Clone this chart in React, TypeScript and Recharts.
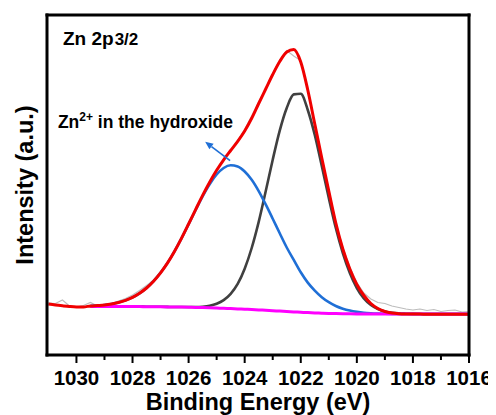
import { Line, LineChart, ReferenceDot, ReferenceLine, XAxis, YAxis } from 'recharts';

// Zn 2p3/2 XPS fit (intensity in arbitrary units)
const ENERGY_EV = [
  1031, 1030.75, 1030.5, 1030.25, 1030, 1029.75, 1029.5, 1029.25, 1029, 1028.75,
  1028.5, 1028.25, 1028, 1027.75, 1027.5, 1027.25, 1027, 1026.75, 1026.5, 1026.25,
  1026, 1025.75, 1025.5, 1025.25, 1025, 1024.75, 1024.5, 1024.25, 1024, 1023.75,
  1023.5, 1023.25, 1023, 1022.75, 1022.5, 1022.25, 1022, 1021.75, 1021.5, 1021.25,
  1021, 1020.75, 1020.5, 1020.25, 1020, 1019.75, 1019.5, 1019.25, 1019, 1018.75,
  1018.5, 1018.25, 1018, 1017.75, 1017.5, 1017.25, 1017, 1016.75, 1016.5, 1016.25,
  1016,
];

const RAW = [
  52.0, 51.5, 55.0, 49.0, 48.0, 49.5, 52.5, 49.0, 50.5, 51.5,
  54.0, 56.5, 60.0, 64.5, 69.5, 75.0, 83.5, 93.0, 104.5, 117.5,
  131.5, 146.0, 159.0, 173.5, 185.0, 196.0, 204.0, 214.5, 225.5, 239.0,
  253.0, 266.5, 281.5, 295.0, 304.5, 299.0, 294.5, 264.5, 232.0, 196.5,
  165.0, 133.0, 107.5, 88.0, 72.5, 62.0, 56.0, 52.5, 51.5, 49.0,
  47.5, 46.0, 45.0, 46.0, 44.5, 45.5, 43.5, 44.5, 45.0, 43.0,
  43.5,
];

const ENVELOPE = [
  51.0, 50.0, 49.2, 48.5, 48.1, 48.1, 49.1, 49.5, 50.0, 51.0,
  52.5, 54.6, 57.6, 61.7, 67.0, 73.8, 82.2, 92.1, 103.8, 116.9,
  131.0, 145.4, 159.6, 172.8, 184.7, 195.2, 204.5, 213.6, 224.0, 236.7,
  251.5, 266.0, 280.5, 293.5, 303.0, 305.5, 293.0, 265.0, 231.0, 197.0,
  164.0, 132.0, 106.0, 86.0, 70.5, 59.5, 51.5, 46.5, 43.5, 42.0,
  41.3, 41.0, 40.9, 40.9, 40.8, 40.8, 40.8, 40.8, 40.8, 40.8,
  40.8,
];

const PEAK_MAIN = [
  null, null, null, null, null, null, 48.6, 48.6, 48.5, 48.5,
  48.5, 48.4, 48.4, 48.4, 48.3, 48.3, 48.2, 48.1, 48.0, 48.0,
  48.0, 48.0, 48.3, 49.2, 51.2, 54.9, 61.2, 71.1, 86.3, 107.0,
  133.1, 163.7, 195.3, 224.4, 247.0, 260.6, 261.2, 245.0, 220.0, 189.0,
  157.0, 127.0, 102.0, 82.0, 67.0, 56.5, 50.0, 46.0, 43.6, 42.3,
  41.6, 41.3, 41.1, 41.0, 41.0, 41.0, 41.0, 41.0, 41.0, 41.0,
  41.0,
];

const PEAK_HYDROXIDE = [
  null, null, null, null, null, null, 49.1, 49.5, 50.0, 51.0,
  52.5, 54.6, 57.6, 61.7, 67.0, 73.8, 82.2, 92.1, 103.8, 116.8,
  130.8, 145.0, 158.7, 170.8, 180.5, 187.0, 189.7, 188.6, 183.5, 175.2,
  163.9, 150.6, 136.3, 121.7, 107.5, 95.1, 82.7, 72.4, 64.4, 57.8,
  52.8, 49.0, 46.3, 44.4, 43.1, 42.2, 41.7, 41.4, 41.2, 41.1,
  41.0, 41.0, 41.0, 41.0, 41.0, 41.0, 41.0, 41.0, 41.0, 41.0,
  41.0,
];

const BACKGROUND = [
  null, null, null, null, null, null, 48.6, 48.6, 48.5, 48.5,
  48.5, 48.4, 48.4, 48.4, 48.3, 48.3, 48.2, 48.1, 48.0, 47.9,
  47.8, 47.6, 47.4, 47.2, 47.0, 46.7, 46.4, 46.1, 45.8, 45.5,
  45.1, 44.7, 44.3, 43.9, 43.5, 43.1, 42.7, 42.4, 42.1, 41.8,
  41.6, 41.4, 41.3, 41.2, 41.1, 41.0, 41.0, 41.0, 41.0, 41.0,
  41.0, 41.0, 41.0, 41.0, 41.0, 41.0, 41.0, 41.0, 41.0, 41.0,
  41.0,
];

const MAJOR_TICKS = [1030, 1028, 1026, 1024, 1022, 1020, 1018, 1016];
const MINOR_TICKS = [1029, 1027, 1025, 1023, 1021, 1019, 1017];

const X_DOMAIN: [number, number] = [1016, 1031.05];
const Y_DOMAIN: [number, number] = [0, 340];

// arrow pointing from the hydroxide peak to its label
const ARROW_TAIL = { x: 1024.52, y: 194.3 };
const ARROW_HEAD = { x: 1025.41, y: 213.3 };

const FONT = '"Liberation Sans", Arial, sans-serif';
const BLUE = '#1f6fd6';
const BORDER = { stroke: '#000', strokeWidth: 3, strokeLinecap: 'square' as const };

const rows = ENERGY_EV.map((e, i) => ({
  e,
  raw: RAW[i],
  fit: ENVELOPE[i],
  main: PEAK_MAIN[i],
  oh: PEAK_HYDROXIDE[i],
  bg: BACKGROUND[i],
}));

function EnergyTick(props: any) {
  const { x, y, payload } = props;
  const major = MAJOR_TICKS.includes(payload.value);
  return (
    <g>
      <line x1={x} x2={x} y1={y} y2={y + (major ? 8 : 5)} stroke="#000" strokeWidth={2} />
      {major && (
        <text
          x={x}
          y={y + 30}
          textAnchor="middle"
          fontFamily={FONT}
          fontWeight="bold"
          fontSize={20.5}
          fill="#000"
        >
          {payload.value}
        </text>
      )}
    </g>
  );
}

function XTitle(props: any) {
  const { x, y, width } = props.viewBox;
  return (
    <text
      x={x + width / 2}
      y={y + 55}
      textAnchor="middle"
      fontFamily={FONT}
      fontWeight="bold"
      fontSize={23.5}
      fill="#000"
    >
      Binding Energy (eV)
    </text>
  );
}

function YTitle(props: any) {
  const { x, y, width, height } = props.viewBox;
  const cx = x + width - 14;
  const cy = y + height / 2;
  return (
    <text
      x={cx}
      y={cy}
      transform={`rotate(-90 ${cx} ${cy})`}
      textAnchor="middle"
      fontFamily={FONT}
      fontWeight="bold"
      fontSize={23.5}
      fill="#000"
    >
      Intensity (a.u.)
    </text>
  );
}

function PanelTitle(props: any) {
  const { x, y } = props.viewBox;
  return (
    <text x={x} y={y} fontFamily={FONT} fontWeight="bold" fill="#000">
      <tspan fontSize={19}>Zn 2p</tspan>
      <tspan fontSize={17} dx={1}>3/2</tspan>
    </text>
  );
}

function HydroxideLabel(props: any) {
  const { x, y } = props.viewBox;
  return (
    <text x={x} y={y} fontFamily={FONT} fontWeight="bold" fill="#000" fontSize={17.5}>
      <tspan>Zn</tspan>
      <tspan fontSize={12} dy={-7}>2+</tspan>
      <tspan dy={7}> in the hydroxide</tspan>
    </text>
  );
}

function ArrowShape(props: any) {
  const { x1, y1, x2, y2 } = props;
  const ang = Math.atan2(y2 - y1, x2 - x1);
  const len = 8;
  const half = 3.5;
  const bx = x2 - len * Math.cos(ang);
  const by = y2 - len * Math.sin(ang);
  const pts = [
    `${x2},${y2}`,
    `${bx - half * Math.sin(ang)},${by + half * Math.cos(ang)}`,
    `${bx + half * Math.sin(ang)},${by - half * Math.cos(ang)}`,
  ].join(' ');
  return (
    <g>
      <line x1={x1} y1={y1} x2={bx} y2={by} stroke={BLUE} strokeWidth={1.6} />
      <polygon points={pts} fill={BLUE} />
    </g>
  );
}

export default function App() {
  return (
    <LineChart
      width={488}
      height={407}
      data={rows}
      margin={{ top: 6, right: 26, bottom: 0, left: 38 }}
    >
      <XAxis
        dataKey="e"
        type="number"
        domain={X_DOMAIN}
        reversed
        allowDataOverflow
        ticks={[...MAJOR_TICKS, ...MINOR_TICKS]}
        interval={0}
        height={60}
        tickLine={false}
        tickSize={0}
        tickMargin={0}
        tick={<EnergyTick />}
        axisLine={BORDER}
        label={<XTitle />}
      />
      <XAxis
        xAxisId="top"
        orientation="top"
        dataKey="e"
        type="number"
        domain={X_DOMAIN}
        reversed
        allowDataOverflow
        height={1}
        tick={false}
        tickLine={false}
        axisLine={BORDER}
      />
      <YAxis
        type="number"
        domain={Y_DOMAIN}
        allowDataOverflow
        width={1}
        tick={false}
        tickLine={false}
        axisLine={BORDER}
        label={<YTitle />}
      />
      <YAxis
        yAxisId="right"
        orientation="right"
        type="number"
        domain={Y_DOMAIN}
        width={1}
        tick={false}
        tickLine={false}
        axisLine={BORDER}
      />
      <Line dataKey="raw" type="linear" stroke="#bdbdbd" strokeWidth={1.2} dot={false} isAnimationActive={false} />
      <Line dataKey="main" type="monotone" stroke="#404040" strokeWidth={2.6} dot={false} isAnimationActive={false} />
      <Line dataKey="oh" type="monotone" stroke={BLUE} strokeWidth={2.6} dot={false} isAnimationActive={false} />
      <Line dataKey="bg" type="monotone" stroke="#ff00ff" strokeWidth={3} dot={false} isAnimationActive={false} />
      <Line dataKey="fit" type="monotone" stroke="#f00000" strokeWidth={3} dot={false} isAnimationActive={false} />
      <ReferenceLine
        segment={[ARROW_TAIL, ARROW_HEAD]}
        ifOverflow="visible"
        stroke={BLUE}
        shape={ArrowShape}
      />
      <ReferenceDot x={1030.48} y={310} r={0} fill="none" stroke="none" ifOverflow="visible" label={<PanelTitle />} />
      <ReferenceDot x={1030.66} y={227} r={0} fill="none" stroke="none" ifOverflow="visible" label={<HydroxideLabel />} />
    </LineChart>
  );
}
